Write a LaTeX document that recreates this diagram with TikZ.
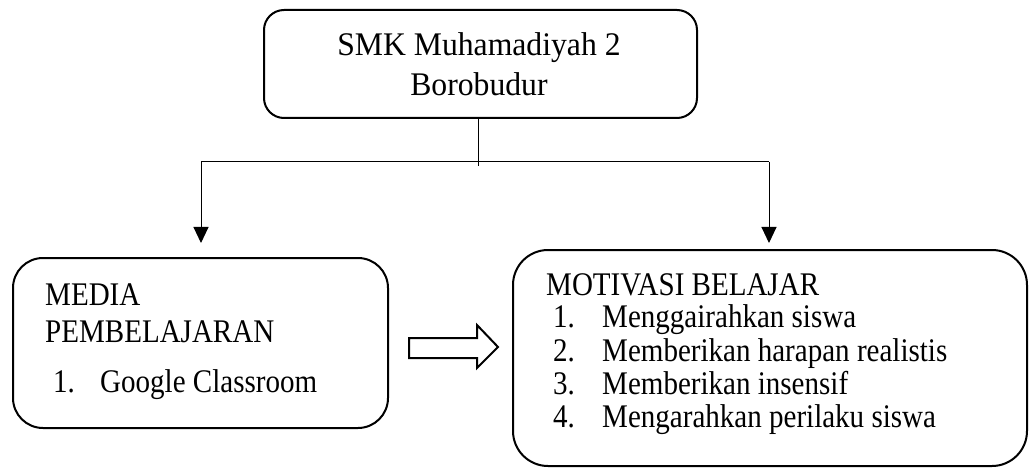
\documentclass[tikz,border=0pt]{standalone}
\usepackage{fontspec}
\setmainfont{Liberation Serif}
\newfontfamily\topfont[FakeStretch=0.96]{Liberation Serif}
\newfontfamily\lowfont[FakeStretch=0.88]{Liberation Serif}
\usetikzlibrary{arrows.meta}
\begin{document}
\begin{tikzpicture}[x=1pt,y=-1pt,
  box/.style={draw, line width=2pt, inner sep=0pt},
  conn/.style={line width=1pt},
  arr/.style={conn, -{Triangle[width=15pt,length=16pt]}},
  txt/.style={anchor=base west, inner sep=0pt, font=\lowfont\fontsize{33}{33}\selectfont},
  toptxt/.style={anchor=base, inner sep=0pt, font=\topfont\fontsize{33}{40}\selectfont}
]
\useasboundingbox (0,0) rectangle (1029,468);
% boxes
\draw[box, rounded corners=20pt] (264,10) rectangle (697,118);
\coordinate (top) at (478,118);
\draw[box, rounded corners=30pt] (13,258) rectangle (388,428);
\draw[box, rounded corners=35pt] (513,250) rectangle (1027,466);
% top text
\node[toptxt] (t1) at (479,56) {SMK Muhamadiyah 2};
\node[toptxt] (t2) at (479,96) {Borobudur};
% connectors
\coordinate (mid) at (478,166);
\coordinate (jl) at (201,162);
\coordinate (jr) at (769,162);
\coordinate (tl) at (201,243);
\coordinate (tr) at (769,243);
\draw[conn] (top) -- (mid);
\draw[conn] (jl) -- (jr);
\draw[arr] (jl) -- (tl);
\draw[arr] (jr) -- (tr);
% left text
\node[txt] (m1) at (45,305) {MEDIA};
\node[txt] (m2) at (45,342) {PEMBELAJARAN};
\node[txt] (m3n) at (53,392) {1.};
\node[txt] (m3) at (100,392) {Google Classroom};
% hollow arrow
\draw[line width=2pt, line join=miter] (409,338) -- (477,338) -- (477,325) -- (498,347) -- (477,368) -- (477,358) -- (409,358) -- cycle;
% right text
\node[txt] (r0) at (546,295) {MOTIVASI BELAJAR};
\node[txt] (r1n) at (553,327) {1.};
\node[txt] (r1) at (602,327) {Menggairahkan siswa};
\node[txt] (r2n) at (553,361) {2.};
\node[txt] (r2) at (602,361) {Memberikan harapan realistis};
\node[txt] (r3n) at (553,394) {3.};
\node[txt] (r3) at (602,394) {Memberikan insensif};
\node[txt] (r4n) at (553,427) {4.};
\node[txt] (r4) at (602,427) {Mengarahkan perilaku siswa};
\end{tikzpicture}
\end{document}
